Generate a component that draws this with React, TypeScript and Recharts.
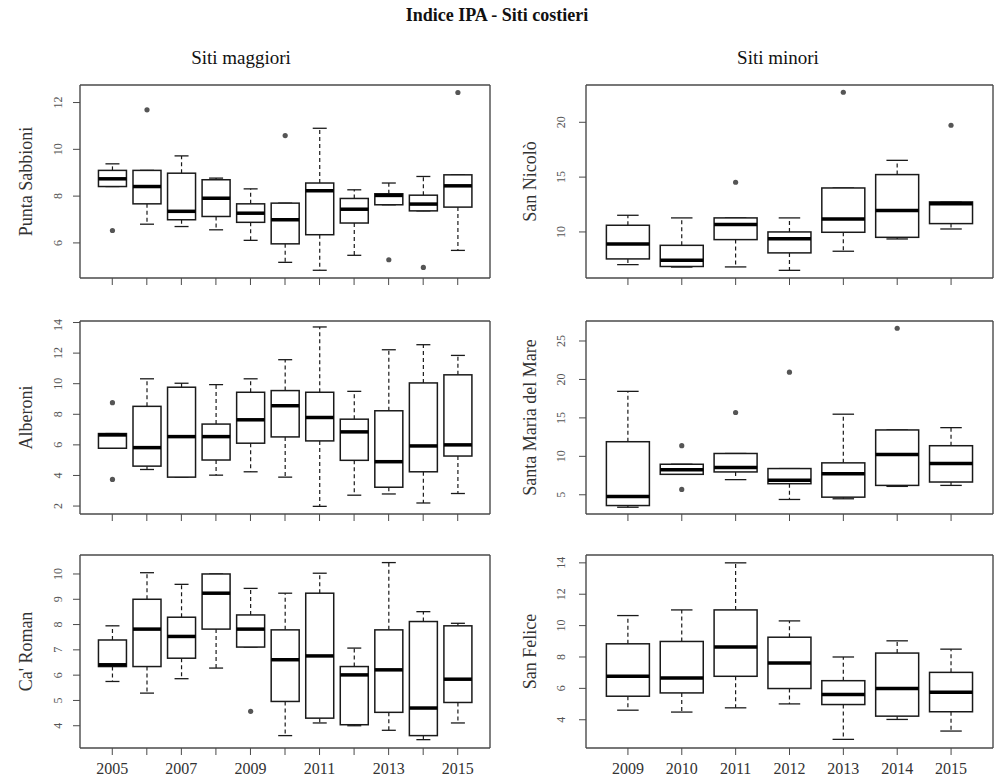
import React from 'react';
import { ComposedChart, Bar, XAxis, YAxis } from 'recharts';

const FONT = '"Liberation Serif", "Times New Roman", serif';
const FRAME = '#4a4a4a';
const INK = '#1a1a1a';

const yearsMaggiori = ['2005', '2006', '2007', '2008', '2009', '2010', '2011', '2012', '2013', '2014', '2015'];
const yearsMinori = ['2009', '2010', '2011', '2012', '2013', '2014', '2015'];

// [whisker low, Q1, median, Q3, whisker high]
const puntaSabbioni = [
  [8.41, 8.41, 8.74, 9.1, 9.38],
  [6.8, 7.67, 8.41, 9.1, 9.1],
  [6.7, 6.99, 7.35, 8.98, 9.72],
  [6.56, 7.13, 7.91, 8.7, 8.77],
  [6.11, 6.88, 7.27, 7.67, 8.31],
  [5.17, 5.96, 6.99, 7.7, 7.7],
  [4.83, 6.35, 8.23, 8.56, 10.9],
  [5.47, 6.85, 7.44, 7.9, 8.27],
  [7.63, 7.63, 8.03, 8.1, 8.56],
  [7.37, 7.37, 7.66, 8.04, 8.84],
  [5.68, 7.53, 8.44, 8.91, 8.91],
];
const puntaSabbioniOut = [[6.53], [11.69], [], [], [], [10.59], [], [], [5.28], [4.95], [12.43]];

const alberoni = [
  [5.78, 5.78, 6.65, 6.74, 6.74],
  [4.39, 4.61, 5.82, 8.52, 10.32],
  [3.89, 3.89, 6.54, 9.77, 10.03],
  [4.02, 5.01, 6.54, 7.36, 9.94],
  [4.24, 6.11, 7.64, 9.44, 10.32],
  [3.89, 6.52, 8.56, 9.55, 11.57],
  [1.98, 6.26, 7.79, 9.44, 13.71],
  [2.71, 4.99, 6.85, 7.68, 9.5],
  [2.79, 3.23, 4.9, 8.23, 12.22],
  [2.2, 4.24, 5.93, 10.05, 12.55],
  [2.82, 5.27, 6.0, 10.58, 11.85],
];
const alberoniOut = [[8.76, 3.74], [], [], [], [], [], [], [], [], [], []];

const caRoman = [
  [5.75, 6.34, 6.41, 7.39, 7.95],
  [5.29, 6.34, 7.82, 9.0, 10.05],
  [5.86, 6.67, 7.53, 8.29, 9.59],
  [6.28, 7.82, 9.24, 10.0, 10.0],
  [7.11, 7.11, 7.82, 8.38, 9.43],
  [3.61, 4.96, 6.61, 7.79, 9.24],
  [4.11, 4.3, 6.76, 9.24, 10.03],
  [4.0, 4.04, 6.01, 6.34, 7.07],
  [3.82, 4.53, 6.21, 7.79, 10.45],
  [3.45, 3.61, 4.7, 8.12, 8.51],
  [4.11, 4.92, 5.84, 7.95, 8.05],
];
const caRomanOut = [[], [], [], [], [4.57], [], [], [], [], [], []];

const sanNicolo = [
  [7.02, 7.54, 8.91, 10.61, 11.52],
  [6.8, 6.85, 7.42, 8.78, 11.28],
  [6.81, 9.3, 10.67, 11.28, 11.28],
  [6.5, 8.09, 9.39, 10.0, 11.28],
  [8.24, 9.97, 11.19, 14.01, 14.01],
  [9.36, 9.51, 11.95, 15.23, 16.53],
  [10.27, 10.76, 12.58, 12.74, 12.74],
];
const sanNicoloOut = [[], [], [14.53], [], [22.74], [], [19.73]];

const santaMaria = [
  [3.38, 3.6, 4.78, 11.9, 18.45],
  [7.66, 7.66, 8.27, 8.97, 8.97],
  [6.97, 7.97, 8.54, 10.37, 10.37],
  [4.39, 6.44, 6.88, 8.41, 8.41],
  [4.48, 4.69, 7.75, 9.15, 15.48],
  [6.09, 6.22, 10.24, 13.43, 13.43],
  [6.22, 6.66, 9.06, 11.38, 13.73],
];
const santaMariaOut = [[], [11.38, 5.7], [15.7], [20.94], [], [26.66], []];

const sanFelice = [
  [4.61, 5.5, 6.77, 8.84, 10.64],
  [4.49, 5.71, 6.66, 8.99, 11.0],
  [4.76, 6.77, 8.63, 11.0, 14.0],
  [5.01, 5.99, 7.62, 9.26, 10.3],
  [2.75, 4.97, 5.61, 6.49, 8.0],
  [4.02, 4.23, 5.99, 8.25, 9.03],
  [3.28, 4.51, 5.75, 7.02, 8.5],
];
const sanFeliceOut = [[], [], [], [], [], [], []];

const toRows = (years: string[], stats: number[][], outs: number[][]) =>
  years.map((year, i) => {
    const [lo, q1, med, q3, hi] = stats[i];
    return { year, lo, q1, med, q3, hi, out: outs[i], box: [q1, q3] };
  });

// box + whiskers, placed from the bar's own scaled Q1..Q3 rectangle
const BoxShape = (props: any) => {
  const { x, y, width, height, payload } = props;
  const top = Math.min(y, y + height);
  const h = Math.abs(height);
  const { lo, q1, med, q3, hi, out } = payload;
  const k = h / (q3 - q1);
  const py = (v: number) => top + (q3 - v) * k;
  const cx = x + width / 2;
  const cap = width / 4;
  return (
    <g>
      <line x1={cx} x2={cx} y1={py(q3)} y2={py(hi)} stroke={INK} strokeWidth={1.2} strokeDasharray="4 3" />
      <line x1={cx} x2={cx} y1={py(q1)} y2={py(lo)} stroke={INK} strokeWidth={1.2} strokeDasharray="4 3" />
      <line x1={cx - cap} x2={cx + cap} y1={py(hi)} y2={py(hi)} stroke={INK} strokeWidth={1.3} />
      <line x1={cx - cap} x2={cx + cap} y1={py(lo)} y2={py(lo)} stroke={INK} strokeWidth={1.3} />
      <rect x={x} y={top} width={width} height={h} fill="#fff" stroke={INK} strokeWidth={1.5} />
      <line x1={x} x2={x + width} y1={py(med)} y2={py(med)} stroke="#000" strokeWidth={3.5} />
      {out.map((v: number, j: number) => (
        <circle key={j} cx={cx} cy={py(v)} r={2.6} fill="#555" />
      ))}
    </g>
  );
};

const YTick = (props: any) => {
  const { x, y, payload } = props;
  return (
    <text x={x} y={y} transform={`rotate(-90 ${x} ${y})`} textAnchor="middle" fontSize={12} fill="#555" fontFamily={FONT}>
      {payload.value}
    </text>
  );
};

const COLS = [
  { left: 0, width: 500, axisW: 80, right: 9, tickMargin: 11, labelX: 32 },
  { left: 500, width: 495, axisW: 86, right: 1, tickMargin: 14, labelX: 536 },
];
const PLOT_TOP = [85, 321, 555];
const PLOT_H = 193;

type PanelProps = {
  rows: any[];
  col: number;
  row: number;
  domain: [number, number];
  ticks: number[];
  labels: 'none' | 'odd' | 'all';
};

const Panel = ({ rows, col, row, domain, ticks, labels }: PanelProps) => {
  const c = COLS[col];
  const xH = row === 2 ? 40 : 32;
  const fmt = (v: string, i: number) => (labels === 'all' ? v : labels === 'odd' && i % 2 === 0 ? v : '');
  return (
    <div style={{ position: 'absolute', left: c.left, top: PLOT_TOP[row] - 5 }}>
      <ComposedChart
        width={c.width}
        height={5 + PLOT_H + xH}
        data={rows}
        margin={{ top: 4, right: c.right, bottom: 0, left: 0 }}
        barCategoryGap="10%"
      >
        <XAxis
          dataKey="year"
          interval={0}
          height={xH}
          padding={{ left: 15, right: 15 }}
          tickSize={7}
          tickMargin={8}
          tickLine={{ stroke: FRAME }}
          axisLine={{ stroke: FRAME, strokeWidth: 1.4 }}
          tick={{ fontSize: 16, fill: '#333', fontFamily: FONT }}
          tickFormatter={fmt}
        />
        <XAxis xAxisId="top" dataKey="year" orientation="top" height={1} tick={false} tickLine={false} axisLine={{ stroke: FRAME, strokeWidth: 1.4 }} />
        <YAxis
          type="number"
          domain={domain}
          ticks={ticks}
          allowDataOverflow
          width={c.axisW}
          tickSize={7}
          tickMargin={c.tickMargin}
          tickLine={{ stroke: FRAME }}
          axisLine={{ stroke: FRAME, strokeWidth: 1.4 }}
          tick={<YTick />}
        />
        <YAxis yAxisId="frame" orientation="right" width={1} domain={[0, 1]} tick={false} tickLine={false} axisLine={{ stroke: FRAME, strokeWidth: 1.4 }} />
        <Bar dataKey="box" shape={BoxShape} isAnimationActive={false} />
      </ComposedChart>
    </div>
  );
};

const sideLabels = [
  { text: 'Punta Sabbioni', col: 0, row: 0 },
  { text: 'Alberoni', col: 0, row: 1 },
  { text: "Ca' Roman", col: 0, row: 2 },
  { text: 'San Nicolò', col: 1, row: 0 },
  { text: 'Santa Maria del Mare', col: 1, row: 1 },
  { text: 'San Felice', col: 1, row: 2 },
];

export default function App() {
  return (
    <div style={{ position: 'absolute', left: 0, top: 0, width: 995, height: 780, background: '#fff', fontFamily: FONT }}>
      <Panel rows={toRows(yearsMaggiori, puntaSabbioni, puntaSabbioniOut)} col={0} row={0} domain={[4.5, 12.75]} ticks={[6, 8, 10, 12]} labels="none" />
      <Panel rows={toRows(yearsMaggiori, alberoni, alberoniOut)} col={0} row={1} domain={[1.48, 14.1]} ticks={[2, 4, 6, 8, 10, 12, 14]} labels="none" />
      <Panel rows={toRows(yearsMaggiori, caRoman, caRomanOut)} col={0} row={2} domain={[3.12, 10.75]} ticks={[4, 5, 6, 7, 8, 9, 10]} labels="odd" />
      <Panel rows={toRows(yearsMinori, sanNicolo, sanNicoloOut)} col={1} row={0} domain={[5.8, 23.4]} ticks={[10, 15, 20]} labels="none" />
      <Panel rows={toRows(yearsMinori, santaMaria, santaMariaOut)} col={1} row={1} domain={[2.5, 27.6]} ticks={[5, 10, 15, 20, 25]} labels="none" />
      <Panel rows={toRows(yearsMinori, sanFelice, sanFeliceOut)} col={1} row={2} domain={[2.2, 14.5]} ticks={[4, 6, 8, 10, 12, 14]} labels="all" />
      <svg width={995} height={780} style={{ position: 'absolute', left: 0, top: 0, pointerEvents: 'none' }}>
        <text x={497} y={21} textAnchor="middle" fontSize={18} fontWeight="bold" fill="#111" fontFamily={FONT}>
          Indice IPA - Siti costieri
        </text>
        <text x={241} y={64} textAnchor="middle" fontSize={19} fill="#111" fontFamily={FONT}>
          Siti maggiori
        </text>
        <text x={778} y={64} textAnchor="middle" fontSize={19} fill="#111" fontFamily={FONT}>
          Siti minori
        </text>
        {sideLabels.map((l) => {
          const x = COLS[l.col].labelX;
          const y = PLOT_TOP[l.row] + PLOT_H / 2;
          return (
            <text key={l.text} x={x} y={y} transform={`rotate(-90 ${x} ${y})`} textAnchor="middle" fontSize={18} fill="#333" fontFamily={FONT}>
              {l.text}
            </text>
          );
        })}
      </svg>
    </div>
  );
}
